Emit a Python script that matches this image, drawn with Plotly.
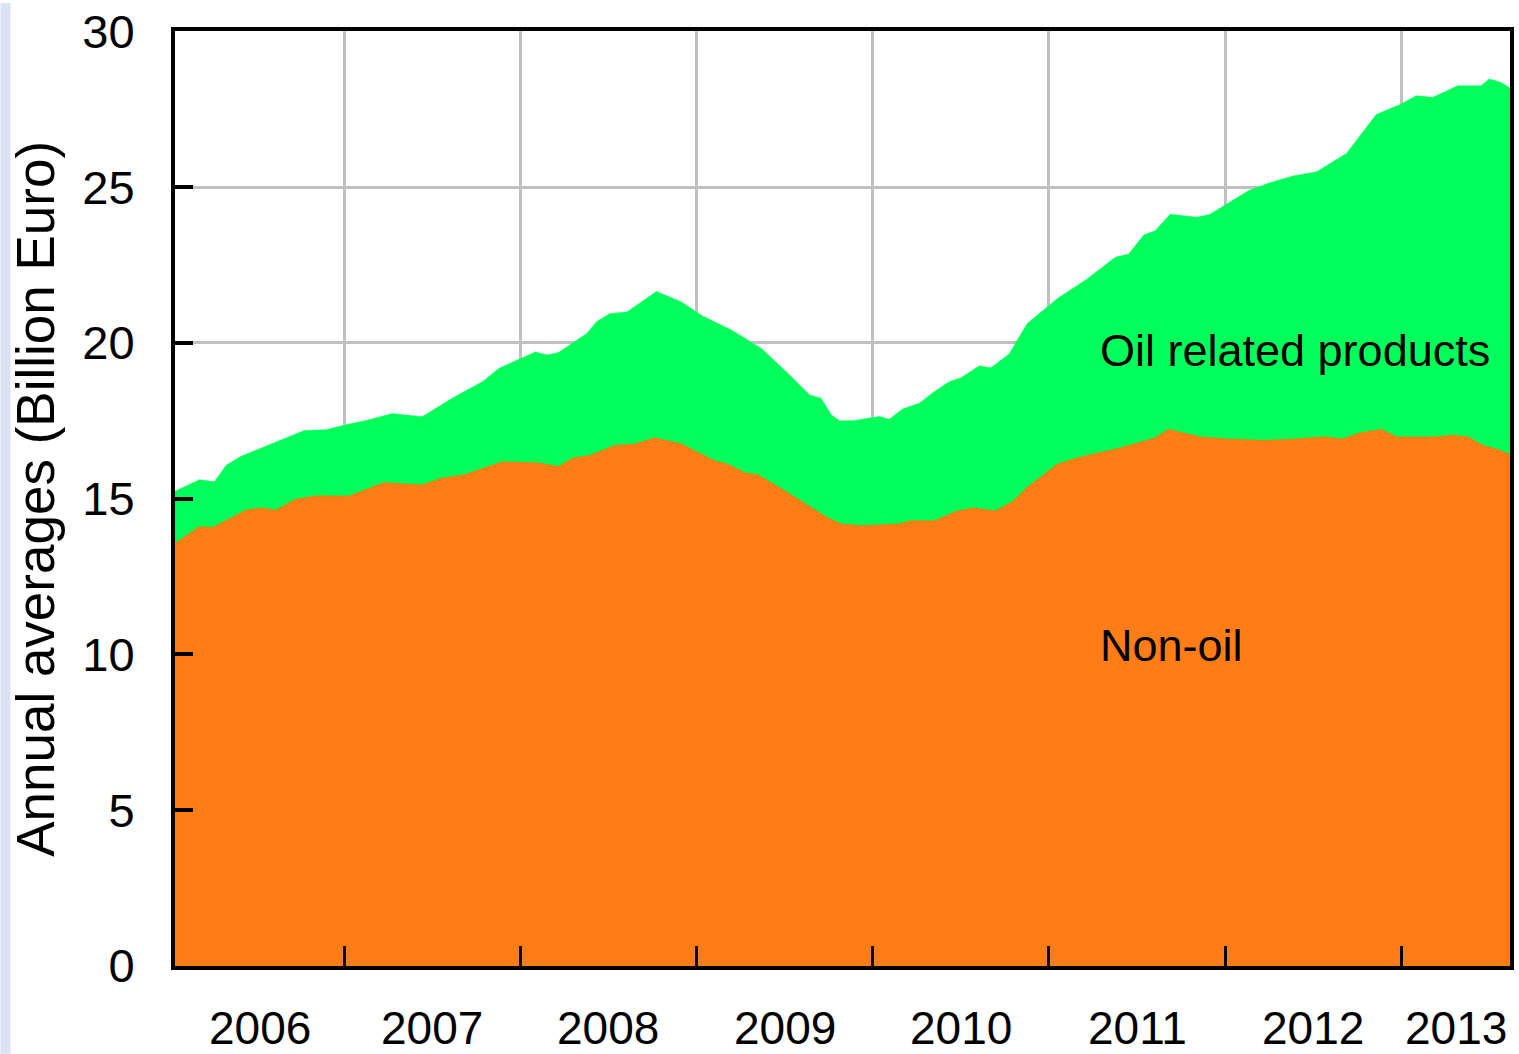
import plotly.graph_objects as go

# ---- data (decimal years, billion euro) ----
total_x = [2006.04, 2006.179, 2006.264, 2006.330, 2006.415, 2006.575, 2006.774, 2006.896,
           2007.010, 2007.142, 2007.273, 2007.443, 2007.613, 2007.792, 2007.877, 2008.085,
           2008.151, 2008.217, 2008.377, 2008.434, 2008.510, 2008.604, 2008.773, 2008.915,
           2009.028, 2009.198, 2009.368, 2009.519, 2009.642, 2009.707, 2009.764, 2009.811,
           2009.887, 2010.038, 2010.094, 2010.170, 2010.264, 2010.349, 2010.434, 2010.500,
           2010.604, 2010.670, 2010.774, 2010.877, 2011.047, 2011.217, 2011.377, 2011.453,
           2011.538, 2011.603, 2011.688, 2011.840, 2011.915, 2012.132, 2012.254, 2012.387,
           2012.519, 2012.689, 2012.858, 2012.990, 2013.085, 2013.179, 2013.321, 2013.453,
           2013.500, 2013.566, 2013.617]
total_y = [15.24, 15.61, 15.54, 16.07, 16.36, 16.73, 17.19, 17.21,
           17.37, 17.53, 17.73, 17.63, 18.22, 18.78, 19.18, 19.71,
           19.61, 19.69, 20.30, 20.69, 20.94, 20.99, 21.65, 21.31,
           20.88, 20.41, 19.82, 19.02, 18.33, 18.22, 17.69, 17.50,
           17.50, 17.64, 17.55, 17.88, 18.06, 18.43, 18.75, 18.88,
           19.26, 19.20, 19.64, 20.62, 21.42, 22.05, 22.75, 22.85,
           23.46, 23.60, 24.13, 24.03, 24.13, 24.88, 25.14, 25.36,
           25.49, 26.08, 27.33, 27.64, 27.93, 27.88, 28.25, 28.25,
           28.47, 28.36, 28.18]

nonoil_x = [2006.04, 2006.179, 2006.255, 2006.444, 2006.528, 2006.613, 2006.727, 2006.840,
            2007.028, 2007.226, 2007.443, 2007.556, 2007.689, 2007.896, 2008.104, 2008.217,
            2008.302, 2008.396, 2008.538, 2008.651, 2008.764, 2008.906, 2009.104, 2009.179,
            2009.274, 2009.349, 2009.500, 2009.651, 2009.745, 2009.821, 2009.934, 2010.151,
            2010.217, 2010.349, 2010.481, 2010.576, 2010.698, 2010.802, 2010.877, 2011.047,
            2011.160, 2011.405, 2011.519, 2011.603, 2011.679, 2011.858, 2012.009, 2012.217,
            2012.406, 2012.557, 2012.670, 2012.764, 2012.887, 2012.972, 2013.188, 2013.292,
            2013.377, 2013.471, 2013.538, 2013.617]
nonoil_y = [13.55, 14.09, 14.07, 14.62, 14.69, 14.62, 14.97, 15.08,
            15.07, 15.50, 15.43, 15.65, 15.77, 16.17, 16.14, 16.02,
            16.30, 16.38, 16.70, 16.75, 16.94, 16.76, 16.20, 16.09,
            15.82, 15.75, 15.24, 14.71, 14.37, 14.18, 14.12, 14.18,
            14.28, 14.28, 14.60, 14.69, 14.60, 14.92, 15.35, 16.09,
            16.30, 16.62, 16.81, 16.94, 17.21, 16.97, 16.91, 16.86,
            16.91, 16.97, 16.91, 17.10, 17.21, 16.97, 16.97, 17.03,
            16.97, 16.68, 16.59, 16.41]

years = [2006, 2007, 2008, 2009, 2010, 2011, 2012, 2013]
y_ticks = [0, 5, 10, 15, 20, 25, 30]
x_min, x_max = 2006.04, 2013.617

GREEN = "#00FF5A"
ORANGE = "#FF7D17"
FONT = "Liberation Sans, Arial, sans-serif"

fig = go.Figure()
fig.add_trace(go.Scatter(x=total_x, y=total_y, mode="lines", fill="tozeroy",
                         fillcolor=GREEN, line=dict(color=GREEN, width=0.5),
                         name="Oil related products", hoverinfo="skip"))
fig.add_trace(go.Scatter(x=nonoil_x, y=nonoil_y, mode="lines", fill="tozeroy",
                         fillcolor=ORANGE, line=dict(color="#E8860C", width=1.5),
                         name="Non-oil", hoverinfo="skip"))

annotations = []
for yr in years:
    lo = max(yr, x_min)
    hi = min(yr + 1, x_max)
    annotations.append(dict(x=(lo + hi) / 2, y=-0.066, xref="x", yref="paper",
                            text=str(yr), showarrow=False, xanchor="center", yanchor="middle",
                            font=dict(family=FONT, size=46, color="black")))
annotations.append(dict(x=-0.1046, y=0.5, xref="paper", yref="paper",
                        text="Annual averages (Billion Euro)", textangle=-90, showarrow=False,
                        xanchor="center", yanchor="middle",
                        font=dict(family=FONT, size=53, color="black")))
annotations.append(dict(x=2011.279, y=19.75, xref="x", yref="y", text="Oil related products",
                        showarrow=False, xanchor="left", yanchor="middle",
                        font=dict(family=FONT, size=45, color="black")))
annotations.append(dict(x=2011.279, y=10.3, xref="x", yref="y", text="Non-oil",
                        showarrow=False, xanchor="left", yanchor="middle",
                        font=dict(family=FONT, size=45, color="black")))

fig.update_layout(
    width=1519, height=1054,
    margin=dict(l=175, r=5, t=28, b=88),
    paper_bgcolor="white", plot_bgcolor="white",
    showlegend=False,
    annotations=annotations,
    shapes=[dict(type="rect", xref="paper", yref="paper", x0=-0.1307, x1=-0.1232,
                 y0=-0.0938, y1=1.03, fillcolor="#DAE2F3", line=dict(width=0), layer="below")],
    xaxis=dict(range=[x_min, x_max], tickvals=years[1:], showticklabels=False,
               ticks="inside", ticklen=20, tickwidth=3, tickcolor="black",
               showgrid=True, gridcolor="#C0C0C0", gridwidth=3,
               showline=True, linecolor="black", linewidth=4, mirror=True, zeroline=False),
    yaxis=dict(range=[0, 30.01], tickvals=y_ticks, ticks="inside", ticklen=18, tickwidth=4,
               tickcolor="black", ticklabelstandoff=27,
               tickfont=dict(family=FONT, size=47, color="black"),
               showgrid=True, gridcolor="#C0C0C0", gridwidth=3,
               showline=True, linecolor="black", linewidth=4, mirror=True, zeroline=False),
)

fig.write_html("out.html", config={"displayModeBar": False},
               post_script="document.body.style.margin='0';document.body.style.overflow='hidden';")
